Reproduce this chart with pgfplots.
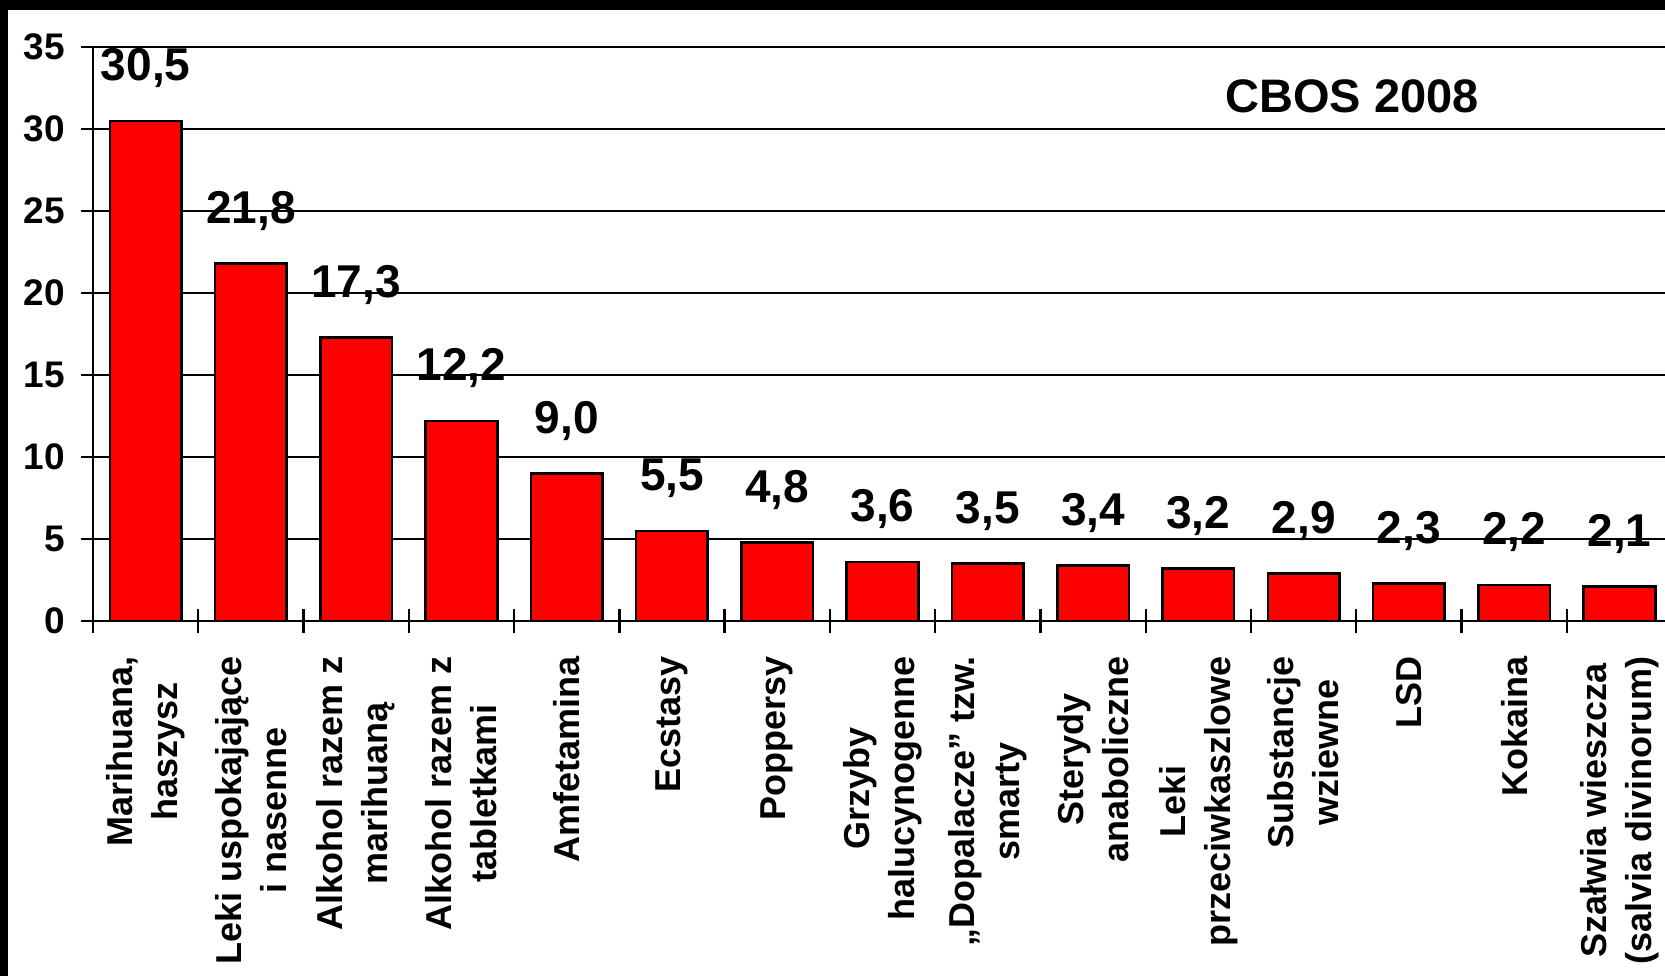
\documentclass[border=0pt]{standalone}
\usepackage{fontspec}
\setmainfont{Liberation Sans}
\usepackage{pgfplots}
\usepackage{pgfplotstable}
\pgfplotsset{compat=1.18}

% CBOS 2008 - values in percent
\pgfplotstableread{
x  y    lab
0  30.5 30,5
1  21.8 21,8
2  17.3 17,3
3  12.2 12,2
4  9.0  9,0
5  5.5  5,5
6  4.8  4,8
7  3.6  3,6
8  3.5  3,5
9  3.4  3,4
10 3.2  3,2
11 2.9  2,9
12 2.3  2,3
13 2.2  2,2
14 2.1  2,1
}\cbos

\begin{document}
\begin{tikzpicture}[font=\bfseries]
  \path[use as bounding box] (-46.5pt,-177.5pt) rectangle (786pt,310.5pt);
  \fill[black] (-46.5pt,305.5pt) rectangle (786pt,310.5pt);
  \fill[black] (-46.5pt,-177.5pt) rectangle (-42.5pt,310.5pt);
  \begin{axis}[
      at={(0,0)}, anchor=south west,
      scale only axis,
      width=786pt, height=287pt,
      xmin=-0.5, xmax=14.433,
      ymin=0, ymax=35,
      clip=false,
      axis x line*=bottom,
      axis y line*=left,
      axis line style={black, line width=1.4pt},
      ytick={0,5,...,35},
      ymajorgrids,
      grid style={black, line width=1.2pt},
      tick align=center,
      major tick length=12pt,
      tick style={black, line width=1.2pt},
      /pgf/number format/assume math mode=true,
      yticklabel style={xshift=-4.5pt, font=\bfseries\fontsize{18.5}{18.5}\selectfont},
      xtick={-0.5,0.5,...,13.5},
      xticklabels={},
      extra x ticks={0,...,14},
      extra x tick labels={
        {Marihuana,\\haszysz},
        {Leki uspokajające\\i nasenne},
        {Alkohol razem z\\marihuaną},
        {Alkohol razem z\\tabletkami},
        Amfetamina,
        Ecstasy,
        Poppersy,
        {Grzyby\\halucynogenne},
        {„Dopalacze” tzw.\\smarty},
        {Sterydy\\anaboliczne},
        {Leki\\przeciwkaszlowe},
        {Substancje\\wziewne},
        LSD,
        Kokaina,
        {Szałwia wieszcza\\(salvia divinorum)}
      },
      extra x tick style={tick style={draw=none}},
      xticklabel style={yshift=-8pt, rotate=90, anchor=east, align=center,
        font=\bfseries\fontsize{18}{22.5}\selectfont},
    ]

    \addplot[ybar, bar width=0.68, fill=red, draw=black, line width=1.3pt,
      nodes near coords, point meta=explicit symbolic,
      every node near coord/.append style={
        font=\bfseries\fontsize{23}{23}\selectfont,
        anchor=base, yshift=20pt, text=black}]
      table[x=x, y=y, meta=lab] {\cbos};

    \node[font=\bfseries\fontsize{23.5}{23.5}\selectfont]
      at (axis cs:11.46,32.0) {CBOS 2008};
  \end{axis}
\end{tikzpicture}
\end{document}
